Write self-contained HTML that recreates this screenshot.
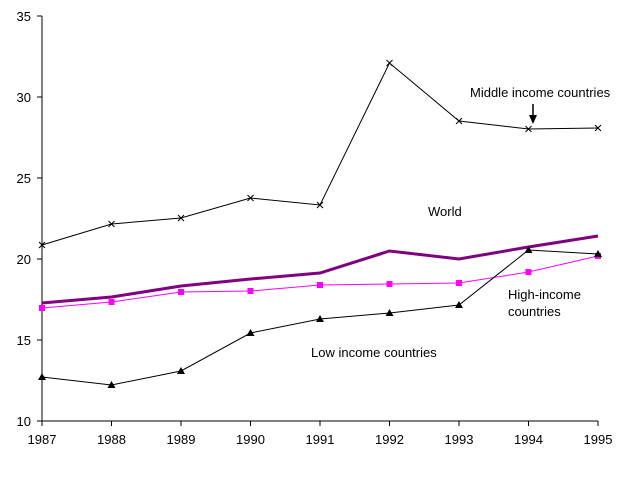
<!DOCTYPE html><html><head><style>body{margin:0;background:#fff}svg{display:block}text{font-family:"Liberation Sans",Arial,sans-serif;font-size:13px;fill:#000}</style></head><body>
<svg width="631" height="479" viewBox="0 0 631 479">
<g stroke="#000" stroke-width="1" shape-rendering="crispEdges">
<line x1="42" y1="16" x2="42" y2="421"/><line x1="42" y1="421" x2="598" y2="421"/>
<line x1="37" y1="16" x2="42" y2="16"/><line x1="37" y1="97" x2="42" y2="97"/><line x1="37" y1="178" x2="42" y2="178"/><line x1="37" y1="259" x2="42" y2="259"/><line x1="37" y1="340" x2="42" y2="340"/><line x1="37" y1="421" x2="42" y2="421"/>
<line x1="42" y1="421" x2="42" y2="426"/><line x1="111.5" y1="421" x2="111.5" y2="426"/><line x1="181" y1="421" x2="181" y2="426"/><line x1="250.5" y1="421" x2="250.5" y2="426"/><line x1="320" y1="421" x2="320" y2="426"/><line x1="389.5" y1="421" x2="389.5" y2="426"/><line x1="459" y1="421" x2="459" y2="426"/><line x1="528.5" y1="421" x2="528.5" y2="426"/><line x1="598" y1="421" x2="598" y2="426"/>
</g>
<g text-anchor="end"><text x="31" y="21">35</text><text x="31" y="102">30</text><text x="31" y="183">25</text><text x="31" y="264">20</text><text x="31" y="345">15</text><text x="31" y="426">10</text></g>
<g text-anchor="middle"><text x="42" y="444">1987</text><text x="111.5" y="444">1988</text><text x="181" y="444">1989</text><text x="250.5" y="444">1990</text><text x="320" y="444">1991</text><text x="389.5" y="444">1992</text><text x="459" y="444">1993</text><text x="528.5" y="444">1994</text><text x="598" y="444">1995</text></g>
<polyline fill="none" stroke="#000" points="42,245 111.5,224 181,218 250.5,198 320,205 389.5,63 459,121 528.5,129 598,128"/>
<g stroke="#000" stroke-width="1"><path d="M39,242l6,6M45,242l-6,6M108.5,221l6,6M114.5,221l-6,6M178,215l6,6M184,215l-6,6M247.5,195l6,6M253.5,195l-6,6M317,202l6,6M323,202l-6,6M386.5,60l6,6M392.5,60l-6,6M456,118l6,6M462,118l-6,6M525.5,126l6,6M531.5,126l-6,6M595,125l6,6M601,125l-6,6"/></g>
<polyline fill="none" stroke="#ff00ff" points="42,308 111.5,302 181,292 250.5,291 320,285 389.5,284 459,283 528.5,272 598,256"/>
<g fill="#ff00ff"><rect x="39" y="305" width="6" height="6"/><rect x="108.5" y="299" width="6" height="6"/><rect x="178" y="289" width="6" height="6"/><rect x="247.5" y="288" width="6" height="6"/><rect x="317" y="282" width="6" height="6"/><rect x="386.5" y="281" width="6" height="6"/><rect x="456" y="280" width="6" height="6"/><rect x="525.5" y="269" width="6" height="6"/><rect x="595" y="253" width="6" height="6"/></g>
<polyline fill="none" stroke="#800080" stroke-width="3" points="42,303 111.5,297 181,286 250.5,279 320,273 389.5,251 459,259 528.5,247 598,236"/>
<polyline fill="none" stroke="#000" points="42,377 111.5,385 181,371 250.5,333 320,319 389.5,313 459,305 528.5,250 598,254"/>
<g fill="#000"><path d="M42,373l4,7h-8zM111.5,381l4,7h-8zM181,367l4,7h-8zM250.5,329l4,7h-8zM320,315l4,7h-8zM389.5,309l4,7h-8zM459,301l4,7h-8zM528.5,246l4,7h-8zM598,250l4,7h-8z"/></g>
<text x="470" y="97">Middle income countries</text>
<line x1="533" y1="104" x2="533" y2="115" stroke="#000" stroke-width="1.5"/><path d="M529,115h8l-4,9z" fill="#000"/>
<text x="428" y="216">World</text>
<text x="508" y="299">High-income</text><text x="508" y="316">countries</text>
<text x="311" y="357">Low income countries</text>
</svg></body></html>
